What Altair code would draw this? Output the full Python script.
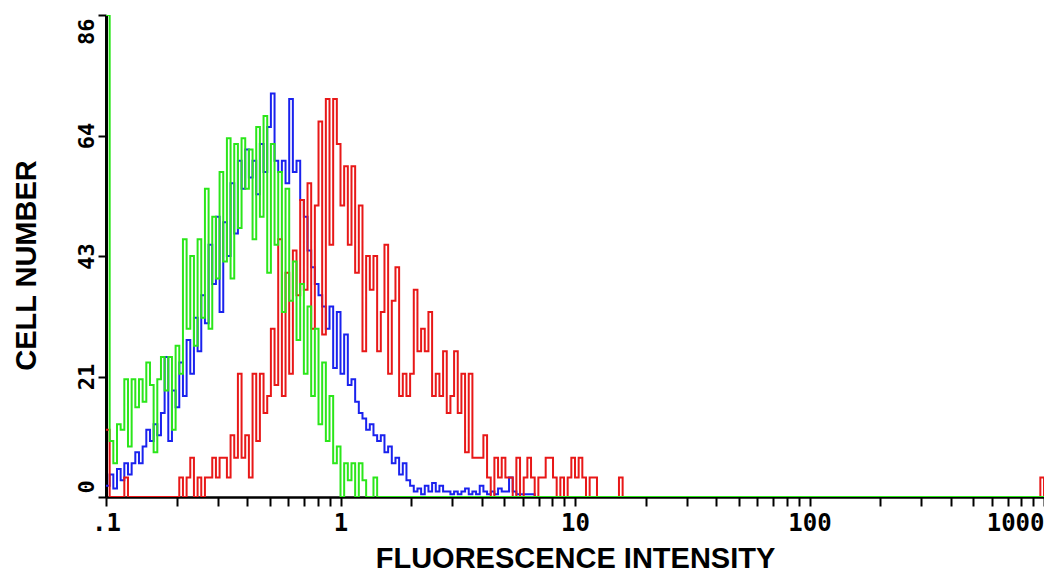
import json
import altair as alt
import pandas as pd

# ---------------- data ----------------
channels_per_decade = 64          # histogram channels per decade of intensity
n_channels = 256                  # 4 decades: 0.1 .. 1000
x_start = 0.1

# counts per channel, starting at channel 0 (intensity 0.1); later channels are 0
green_counts = [86, 10, 6, 13, 12, 21, 9, 21, 16, 21,
                17, 24, 20, 8, 21, 25, 19, 25, 12, 27,
                22, 46, 30, 43, 27, 46, 32, 55, 30, 50,
                39, 58, 42, 64, 39, 63, 48, 64, 55, 62,
                46, 66, 50, 68, 40, 63, 45, 58, 33, 55,
                35, 42, 28, 38, 22, 34, 18, 30, 13, 24,
                10, 18, 6, 9, 0, 6, 3, 6, 0, 6,
                3, 0, 0, 3.5]

blue_counts = [2, 4, 1.5, 5, 3, 6, 4, 6, 8, 6,
               9, 12, 10, 13, 11, 15, 25, 10, 19, 16,
               24, 18, 28, 22, 32, 26, 36, 31, 45, 38,
               50, 33, 49, 43, 56, 47, 60, 55, 62, 57,
               60, 54, 63, 58, 66, 72, 60, 58, 60, 56,
               71, 58, 60, 53, 50, 44, 41, 38, 36, 34,
               30, 34, 23, 33, 22, 29, 20, 21, 17, 15,
               14, 12, 13, 11, 10, 11, 8, 9, 6, 7,
               4, 6, 3, 2, 1, 1.5, 0.5, 2, 1, 2.5,
               1, 2, 1, 1, 0.5, 1, 0.5, 1, 1.5, 0.5,
               1, 0.5, 2, 1, 0.5, 1, 0.5, 1.5, 1, 1,
               3.5, 1, 0.5, 0.5, 0.5, 0.5, 0.5]

red_counts = [12, 0, 0, 0, 0, 3.5, 0, 0, 0, 0,
              0, 0, 0, 0, 0, 0, 0, 0, 0, 0,
              3.5, 0, 3.5, 7, 0, 3.5, 0, 3.5, 3.5, 7,
              3.5, 7, 7, 3.5, 11, 7, 22, 7, 11, 3.5,
              22, 10, 22, 15, 18, 30, 20, 46, 18, 40,
              22, 44, 36, 53, 37, 56, 30, 52, 67, 29,
              71, 45, 71, 63, 52, 59, 45, 59, 40, 52,
              26, 43, 37, 43, 26, 33, 45, 22, 35, 41,
              18, 22, 18, 22, 37, 26, 30, 26, 33, 18,
              22, 18, 26, 15, 18, 26, 15, 22, 8, 22,
              7, 7, 7, 11, 3.5, 0, 7, 3.5, 7, 3.5,
              3.5, 0, 7, 0, 3.5, 7, 3.5, 0, 3.5, 3.5,
              7, 7, 3.5, 0, 3.5, 0, 3.5, 7, 3.5, 7,
              3.5, 0, 3.5, 3.5, 0, 0, 0, 0, 0, 0,
              3.5, 0]
red_edge_channels = [255]
red_edge_counts = [3.5]

x_decades = [0.1, 1, 10, 100, 1000]
x_decade_labels = [".1", "1", "10", "100", "1000"]
x_minor_multipliers = [2, 3, 4, 5, 6, 7, 8, 9]
y_tick_values = [0, 21.5, 43, 64.5, 86]
y_tick_labels = ["0", "21", "43", "64", "86"]

series_order = ["blue", "red", "green"]          # drawing order (green on top)
series_colors = {"green": "#2be61a", "blue": "#1a22ee", "red": "#e81818"}

# ---------------- table ----------------
rows = []
for name, counts in [("blue", blue_counts), ("red", red_counts), ("green", green_counts)]:
    vals = list(counts) + [0] * (n_channels + 1 - len(counts))
    if name == "red":
        for c, v in zip(red_edge_channels, red_edge_counts):
            vals[c] = v
    for i, v in enumerate(vals):
        rows.append({"series": name, "channel": i,
                     "intensity": x_start * 10 ** (i / channels_per_decade),
                     "count": v})
df = pd.DataFrame(rows)

x_ticks = sorted(set([round(d * m, 6) for d in x_decades[:-1] for m in [1] + x_minor_multipliers] + [x_decades[-1]]))
x_label_expr = (f"indexof({json.dumps(x_decades)}, datum.value) >= 0 ? "
                f"{json.dumps(x_decade_labels)}[indexof({json.dumps(x_decades)}, datum.value)] : ''")
y_label_expr = (f"indexof({json.dumps(y_tick_values)}, datum.value) >= 0 ? "
                f"{json.dumps(y_tick_labels)}[indexof({json.dumps(y_tick_values)}, datum.value)] : ''")

x_axis = alt.Axis(
    values=x_ticks, labelExpr=x_label_expr, title="FLUORESCENCE INTENSITY",
    grid=False, domainColor="black", domainWidth=2.5,
    tickColor="black", tickWidth=2, tickSize=9,
    labelFont="DejaVu Sans Mono", labelFontSize=24, labelFontWeight="bold",
    labelColor="black", labelPadding=5, labelOverlap=False, labelFlush=False,
    labelAlign={"condition": {"test": "datum.value == 1000", "value": "right"}, "value": "center"},
    titleFont="Liberation Sans", titleFontSize=29, titleFontWeight="bold",
    titleColor="black", titleY=70, titleBaseline="alphabetic",
)

y_axis = alt.Axis(
    values=y_tick_values, labelExpr=y_label_expr, title="CELL NUMBER",
    grid=False, domainColor="black", domainWidth=3,
    tickColor="black", tickWidth=2, tickSize=8,
    labelAngle=270, labelFont="DejaVu Sans Mono", labelFontSize=22,
    labelFontWeight="bold", labelColor="black", labelPadding=5,
    labelBaseline="alphabetic", labelFlush=False, labelOverlap=False,
    labelAlign={"condition": [{"test": "datum.value == 0", "value": "left"},
                              {"test": "datum.value == 86", "value": "right"}],
                "value": "center"},
    labelOffset={"condition": [{"test": "datum.value == 0", "value": -4},
                               {"test": "datum.value == 86", "value": 3}],
                 "value": 0},
    titleFont="Liberation Sans", titleFontSize=29, titleFontWeight="bold",
    titleColor="black", titleAngle=270, titleX=-71, titleY=250,
    titleAlign="center", titleBaseline="alphabetic",
)

base = alt.Chart(df).encode(
    x=alt.X("intensity:Q", scale=alt.Scale(type="log", domain=[0.1, 1000], nice=False), axis=x_axis),
    y=alt.Y("count:Q", scale=alt.Scale(domain=[0, 86], nice=False, zero=True), axis=y_axis),
    order=alt.Order("channel:Q"),
)

layers = [
    base.transform_filter(alt.datum.series == s).mark_line(
        interpolate="step-after", strokeWidth=2, color=series_colors[s], clip=True)
    for s in series_order
]

chart = alt.layer(*layers).properties(
    width=938, height=482,
    autosize=alt.AutoSizeParams(type="none"),
    padding={"left": 98, "top": 7, "right": 0, "bottom": 77},
    background="white",
).configure_view(strokeWidth=0)

chart.save("out.html", embed_options={"renderer": "svg", "actions": False})
